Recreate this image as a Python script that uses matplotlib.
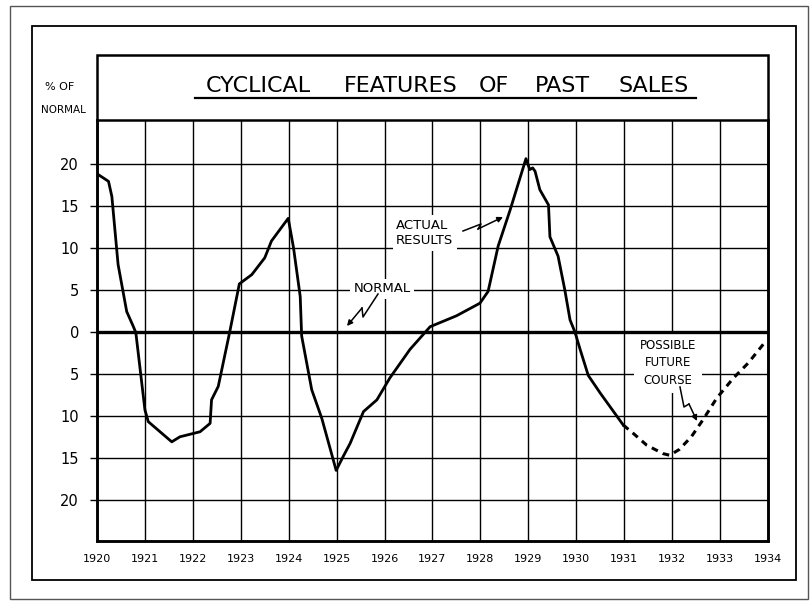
import matplotlib
matplotlib.use("Agg")
import matplotlib.pyplot as plt
from matplotlib.patches import Rectangle
from matplotlib.lines import Line2D

# ---------------- data ----------------
year_ticks = list(range(1920, 1935))
year_labels = [str(y) for y in year_ticks]
y_ticks = [20, 15, 10, 5, 0, -5, -10, -15, -20]
y_tick_labels = ["20", "15", "10", "5", "0", "5", "10", "15", "20"]

actual_years = [1920.00, 1920.24, 1920.31, 1920.44, 1920.62, 1920.76, 1920.81,
                1921.00, 1921.07, 1921.56, 1921.73, 1922.15, 1922.36, 1922.39,
                1922.53, 1922.77, 1922.97, 1923.23, 1923.50, 1923.64, 1923.99,
                1924.10, 1924.24, 1924.27, 1924.48, 1924.69, 1924.99, 1925.14,
                1925.28, 1925.56, 1925.84, 1926.11, 1926.53, 1926.95, 1927.50,
                1927.99, 1928.16, 1928.37, 1928.62, 1928.95, 1929.03, 1929.09,
                1929.14, 1929.24, 1929.42, 1929.45, 1929.62, 1929.76, 1929.87,
                1929.97, 1930.08, 1930.25, 1930.50, 1930.98]
actual_values = [18.8, 17.9, 16.1, 8.0, 2.4, 0.6, -0.1,
                 -9.3, -10.7, -13.1, -12.5, -11.9, -10.9, -8.1,
                 -6.5, 0.0, 5.7, 6.8, 8.8, 10.8, 13.5,
                 10.0, 4.2, -0.5, -6.9, -10.3, -16.5, -14.8,
                 -13.3, -9.5, -8.1, -5.5, -2.1, 0.6, 1.9,
                 3.4, 4.8, 10.2, 14.5, 20.6, 19.3, 19.5,
                 19.1, 16.9, 15.1, 11.3, 9.0, 5.0, 1.4,
                 0.0, -2.1, -5.2, -7.3, -11.1]

future_years = [1930.98, 1931.19, 1931.47, 1931.81, 1931.95, 1932.15, 1932.40,
                1932.64, 1932.93, 1933.28, 1933.59, 1933.97]
future_values = [-11.1, -12.1, -13.5, -14.5, -14.7, -14.0, -12.5,
                 -10.5, -7.9, -5.5, -3.7, -1.0]

title_words = ["CYCLICAL", "FEATURES", "OF", "PAST", "SALES"]

# ---------------- figure ----------------
W, H = 810, 601
fig = plt.figure(figsize=(W / 100, H / 100), dpi=100)
fig.patch.set_facecolor("white")


def fx(x):
    return x / W


def fy(y):
    return 1 - y / H


def frame(x0, y0, x1, y1, lw, color="black", z=1):
    fig.add_artist(Rectangle((fx(x0), fy(y1)), fx(x1) - fx(x0), fy(y0) - fy(y1),
                             transform=fig.transFigure, fill=False,
                             lw=lw, edgecolor=color, zorder=z))


# outer & inner frames
frame(10, 6, 808, 599, 1.0, color="#555555")
frame(32, 26, 796, 580, 1.3)
# title + plot box
frame(97, 55, 768, 541, 1.8, z=5)

ax = fig.add_axes([fx(97), fy(541), fx(768) - fx(97), fy(120) - fy(541)])
ax.set_xlim(1920, 1934)
ax.set_ylim(-24.9, 25.2)
ax.set_xticks(year_ticks)
ax.set_xticklabels(year_labels)
ax.set_yticks(y_ticks)
ax.set_yticklabels(y_tick_labels)
ax.grid(True, color="black", lw=1.0)
ax.set_axisbelow(True)
ax.axhline(0, color="black", lw=2.4, zorder=6.5)
for s in ax.spines.values():
    s.set_linewidth(1.8)
ax.tick_params(axis="x", length=0, pad=9, labelsize=8)
ax.tick_params(axis="y", length=5, width=1.0, pad=8, labelsize=10.5)

ax.plot(actual_years, actual_values, color="black", lw=2.0, zorder=4,
        solid_joinstyle="round")
ax.plot(future_years, future_values, color="black", lw=2.2, zorder=4,
        linestyle=(0, (2.2, 1.8)))

# title
title_centers = [258, 401, 494, 562, 654]
for word, cx in zip(title_words, title_centers):
    fig.text(fx(cx), fy(86), word, ha="center", va="center", fontsize=16,
             color="black")
fig.add_artist(Line2D([fx(195), fx(696)], [fy(97.5), fy(97.5)],
                      transform=fig.transFigure, color="black", lw=1.6))

# axis unit label
fig.text(fx(60), fy(87), "% OF", ha="center", va="center", fontsize=8)
fig.text(fx(63), fy(110), "NORMAL", ha="center", va="center", fontsize=7.5)

# annotations (drawn inside the axes so the zero line can stay on top)
box = dict(facecolor="white", edgecolor="none", pad=2.5)
ax.text(fx(396), fy(233), "ACTUAL\nRESULTS", ha="left", va="center",
        fontsize=9.5, linespacing=1.25, bbox=box, zorder=6,
        transform=fig.transFigure)
ax.text(fx(382), fy(289), "NORMAL", ha="center", va="center",
        fontsize=9.5, bbox=box, zorder=6, transform=fig.transFigure)
ax.text(fx(668), fy(363), "POSSIBLE\nFUTURE\nCOURSE", ha="center",
        va="center", fontsize=8.5, linespacing=1.45, multialignment="center",
        bbox=dict(facecolor="white", edgecolor="none", pad=4), zorder=6,
        transform=fig.transFigure)


def zigzag(pts):
    xs = [fx(p[0]) for p in pts[:-1]]
    ys = [fy(p[1]) for p in pts[:-1]]
    fig.add_artist(Line2D(xs, ys, transform=fig.transFigure, color="black",
                          lw=1.1, zorder=7))
    ax.annotate("", xy=(fx(pts[-1][0]), fy(pts[-1][1])),
                xytext=(fx(pts[-2][0]), fy(pts[-2][1])),
                xycoords=fig.transFigure, textcoords=fig.transFigure,
                arrowprops=dict(arrowstyle="-|>", color="black", lw=1.1,
                                mutation_scale=8, shrinkA=0, shrinkB=0),
                zorder=7)


zigzag([(463, 231), (481, 224), (478, 229), (503, 217)])
zigzag([(378, 294), (363, 317), (362, 308), (347, 326)])
zigzag([(680, 387), (684, 407), (689, 404), (697, 421)])

fig.savefig("out.png", dpi=100, facecolor="white")
